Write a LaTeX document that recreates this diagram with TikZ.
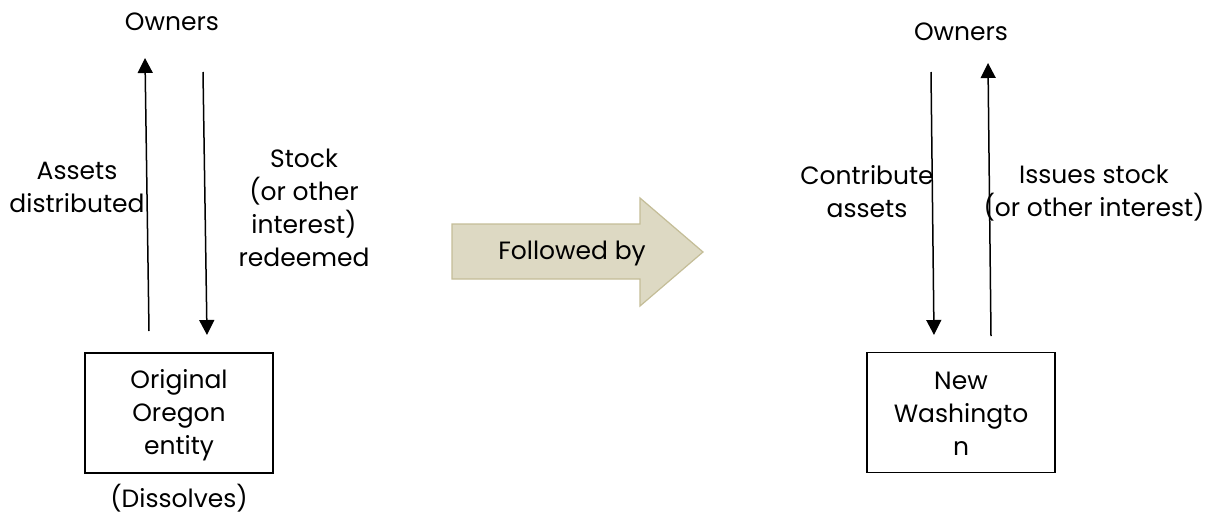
\documentclass[tikz,border=0pt]{standalone}
\usepackage{fontspec}
\setmainfont{Poppins}
\usetikzlibrary{arrows.meta}
\definecolor{arrfill}{HTML}{DDD9C3}
\definecolor{arrdraw}{HTML}{C4BD97}
\tikzset{
  lbl/.style={font=\fontsize{25}{33}\selectfont, align=center, inner sep=0pt},
  entitybox/.style={draw, line width=1.5pt, minimum width=188pt, minimum height=120pt, inner sep=0pt},
  flow/.style={line width=1.5pt, -{Triangle[width=15pt,length=15pt]}},
}
\begin{document}
\begin{tikzpicture}[x=1pt,y=-1pt]
\useasboundingbox (0,0) rectangle (1215,517);
% left
\node[lbl] (ownL) at (172,22) {Owners};
\node[lbl] (assetsL) at (77,187) {Assets\\distributed};
\node[lbl] (stockL) at (304,208) {Stock\\(or other\\interest)\\redeemed};
\node[entitybox] (boxL) at (179,413) {};
\node[lbl] (boxLtxt) at (179,415) {Original\\Oregon\\entity};
\node[lbl] (diss) at (179,498) {(Dissolves)};
\coordinate (l1s) at (149,331);
\coordinate (l1e) at (145,58);
\coordinate (l2s) at (203,72);
\coordinate (l2e) at (207,335);
\draw[flow] (l1s) -- (l1e);
\draw[flow] (l2s) -- (l2e);
% middle arrow
\draw[fill=arrfill, draw=arrdraw, line width=1.2pt]
  (452,224) -- (640,224) -- (640,198) -- (703,252) -- (640,306) -- (640,279) -- (452,279) -- cycle;
\node[lbl] (follow) at (572,253) {Followed by};
% right
\node[lbl] (ownR) at (961,32) {Owners};
\node[lbl] (contrib) at (867,192) {Contribute\\assets};
\node[lbl] (issues) at (1094,193) {Issues stock\\(or other interest)};
\node[entitybox] (boxR) at (961,412.5) {};
\node[lbl] (boxRtxt) at (961,414) {New\\Washingto\\n};
\coordinate (r1s) at (931,72);
\coordinate (r1e) at (934,335);
\coordinate (r2s) at (991,336);
\coordinate (r2e) at (988,63);
\draw[flow] (r1s) -- (r1e);
\draw[flow] (r2s) -- (r2e);
\end{tikzpicture}
\end{document}
